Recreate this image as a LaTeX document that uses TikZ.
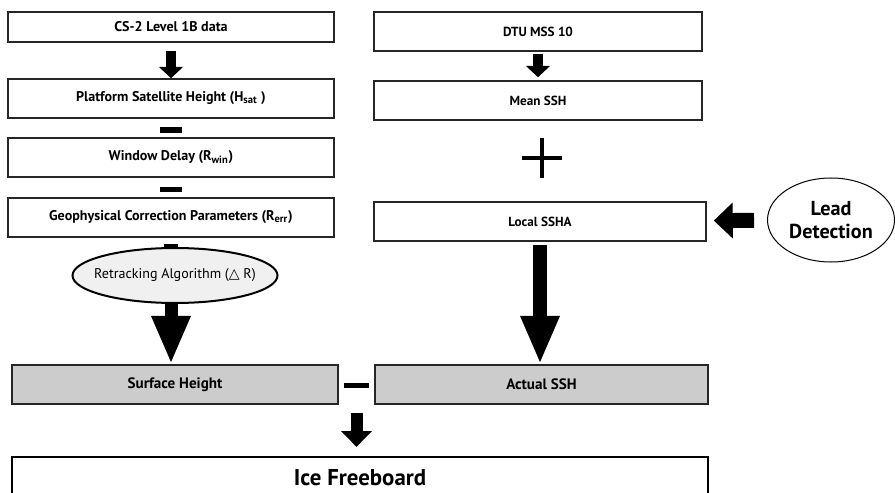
\documentclass[tikz,border=0pt]{standalone}
\usepackage{fontspec}
\setmainfont{PT Sans}
\newfontfamily\symfont{DejaVu Sans}
\usetikzlibrary{arrows.meta,shapes.geometric,calc}
\newdimen\pix \pix=0.02cm
\tikzset{
  box/.style={draw=black!85, line width=1.5\pix, minimum height=39\pix, inner sep=0pt, font=\fontsize{8}{9}\selectfont\bfseries},
  rbox/.style={box, minimum width=328\pix, font=\fontsize{7.5}{9}\selectfont\bfseries},
  greybox/.style={box, fill=black!20, font=\fontsize{8.6}{9}\selectfont\bfseries},
  opbar/.style={fill=black, inner sep=0pt, minimum height=6\pix},
  thinarrow/.style={line width=10\pix, -{Triangle[width=13.5pt, length=6.5pt]}},
  fatarrow/.style={line width=14\pix, -{Triangle[width=20.4pt, length=27.5pt]}}
}
\begin{document}
\begin{tikzpicture}[x=0.02cm, y=-0.02cm]
\useasboundingbox (0,0) rectangle (895,493);
% left column
\node[box, minimum width=326\pix, minimum height=30\pix] (cs2) at (171,27) {CS-2 Level 1B data};
\node[box, minimum width=326\pix] (plat) at (171,98.5) {Platform Satellite Height (H\textsubscript{sat} )};
\node[box, minimum width=326\pix] (win) at (171,157.5) {Window Delay (R\textsubscript{win})};
\node[box, minimum width=326\pix] (geo) at (171,217.5) {Geophysical Correction Parameters (R\textsubscript{err})};
\node[ellipse, draw, line width=2\pix, fill=black!6, minimum width=205\pix, minimum height=55\pix, inner xsep=-17\pix, inner ysep=0pt, font=\fontsize{8}{9}\selectfont] (retr) at (175,275.5) {Retracking Algorithm ({\symfont △} R)};
\node[opbar, minimum width=22\pix] (m1) at (171,130) {};
\node[opbar, minimum width=22\pix, minimum height=5\pix] (m2) at (171,190) {};
% right column
\node[rbox] (dtu) at (538,31.5) {DTU MSS 10};
\node[rbox] (mean) at (538,100.5) {Mean SSH};
\node[rbox, minimum width=332\pix] (local) at (540,221.5) {Local SSHA};
\node[ellipse, draw, line width=1\pix, minimum width=127\pix, minimum height=84\pix, inner sep=0pt, align=center, font=\fontsize{11.5}{13.5}\selectfont\bfseries] (lead) at (831,220) {Lead\\Detection};
\node[inner sep=0pt, minimum size=40\pix] (plus) at (542,158) {};
\draw[line width=4\pix] (plus.west) -- (plus.east) (plus.north) -- (plus.south);
% results
\node[greybox, minimum width=326\pix] (surf) at (175,384.5) {Surface Height};
\node[greybox, minimum width=333\pix] (actual) at (541.5,384.5) {Actual SSH};
\node[opbar, minimum width=25\pix, minimum height=5\pix] (m3) at (356.5,385) {};
\node[draw=black, line width=2.2\pix, minimum width=696\pix, minimum height=42\pix, font=\fontsize{13}{15}\selectfont\bfseries] (ice) at (360,478) {Ice Freeboard};
\coordinate (diff) at ($(surf.south east)!0.5!(actual.south west)$);
% connectors
\draw[thinarrow, shorten <=8\pix] (cs2) -- (plat);
\draw[thinarrow, shorten <=2\pix, shorten >=3\pix] (dtu) -- (mean);
\draw[line width=14\pix, shorten <=6\pix] (geo) -- (geo.south |- retr.north);
\draw[fatarrow, line width=13\pix] (geo.south |- retr.south) -- (geo.south |- surf.north);
\draw[fatarrow, shorten <=3\pix] (local) -- (local.south |- actual.north);
\draw[thinarrow, line width=12\pix, -{Triangle[width=17pt, length=9pt]}, shorten <=8\pix, shorten >=9\pix] (diff) -- (diff |- ice.north);
\draw[line width=15\pix, -{Triangle[width=19.8pt, length=10.8pt]}, shorten <=13\pix, shorten >=7\pix] (lead) -- (local);
\end{tikzpicture}
\end{document}
